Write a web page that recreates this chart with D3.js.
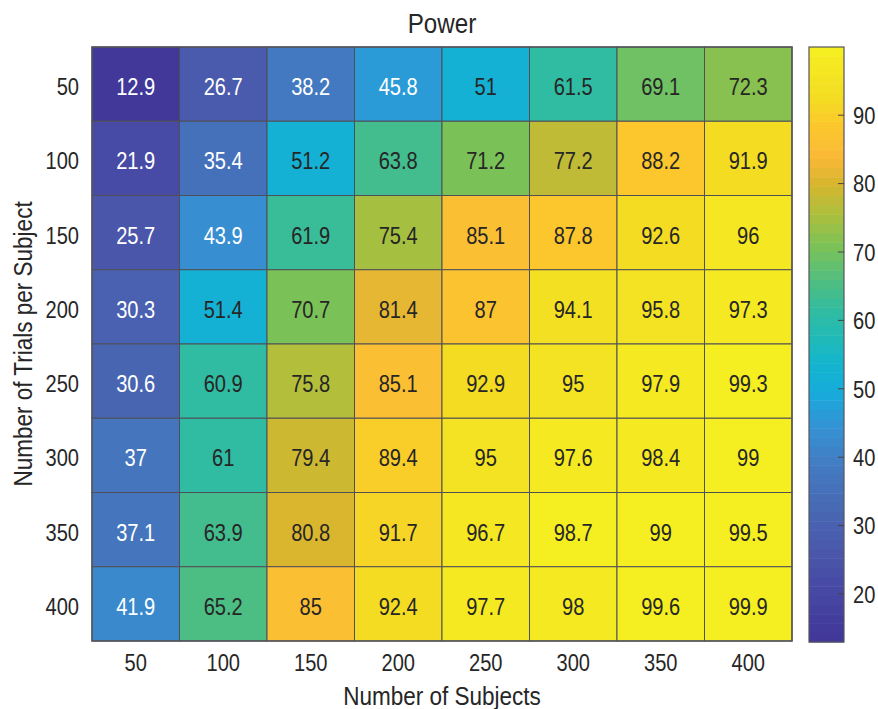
<!DOCTYPE html>
<html>
<head>
<meta charset="utf-8">
<script src="https://cdn.jsdelivr.net/npm/d3@7"></script>
<style>
  html, body { margin: 0; padding: 0; background: #fff; }
  svg text { font-family: "Liberation Sans Narrow", "Liberation Sans", Arial, sans-serif; fill: #262626; }
</style>
</head>
<body>
<svg id="chart" width="878" height="709"></svg>
<script>
// Number of subjects (columns) and trials per subject (rows)
const subjects = [50, 100, 150, 200, 250, 300, 350, 400];
const trials = [50, 100, 150, 200, 250, 300, 350, 400];

// Power (%) per row of trials, one value per subject count
const power50  = [12.9, 26.7, 38.2, 45.8, 51,   61.5, 69.1, 72.3];
const power100 = [21.9, 35.4, 51.2, 63.8, 71.2, 77.2, 88.2, 91.9];
const power150 = [25.7, 43.9, 61.9, 75.4, 85.1, 87.8, 92.6, 96];
const power200 = [30.3, 51.4, 70.7, 81.4, 87,   94.1, 95.8, 97.3];
const power250 = [30.6, 60.9, 75.8, 85.1, 92.9, 95,   97.9, 99.3];
const power300 = [37,   61,   79.4, 89.4, 95,   97.6, 98.4, 99];
const power350 = [37.1, 63.9, 80.8, 91.7, 96.7, 98.7, 99,   99.5];
const power400 = [41.9, 65.2, 85,   92.4, 97.7, 98,   99.6, 99.9];
const powerRows = [power50, power100, power150, power200, power250, power300, power350, power400];

const colorbarTicks = [20, 30, 40, 50, 60, 70, 80, 90];

const cells = [];
trials.forEach((t, i) => subjects.forEach((s, j) => cells.push({ trials: t, subjects: s, value: powerRows[i][j] })));

const vmin = d3.min(cells, d => d.value);
const vmax = d3.max(cells, d => d.value);

// Parula-like colour ramp, sampled into 64 discrete levels
const rampStops = [0, 0.08, 0.15, 0.22, 0.30, 0.36, 0.42, 0.47, 0.55, 0.61, 0.67, 0.72, 0.77, 0.82, 0.87, 0.92, 1];
const rampColors = ["#41389a", "#4748a3", "#4a58ab", "#4868b4", "#427dc3", "#3492d4", "#16acdc", "#14b6cd",
                    "#2dbca5", "#50be80", "#7dc255", "#aac03e", "#d4b62e", "#fab937", "#fdc62d", "#f4dc23", "#f5ee20"];
const ramp = d3.scaleLinear().domain(rampStops).range(rampColors).interpolate(d3.interpolateRgb);
const levels = d3.range(64).map(k => ramp(k / 63));
const color = d3.scaleQuantize().domain([vmin, vmax]).range(levels);

// Condensed lettering: horizontal squeeze of the sans face
const NARROW = 0.82;

const svg = d3.select("#chart");
const plot = { left: 92, top: 47, right: 792, bottom: 641 };

const x = d3.scaleBand().domain(subjects).range([plot.left, plot.right]);
const y = d3.scaleBand().domain(trials).range([plot.top, plot.bottom]);

// Heatmap cells
svg.append("g").selectAll("rect").data(cells).join("rect")
  .attr("x", d => x(d.subjects))
  .attr("y", d => y(d.trials))
  .attr("width", x.bandwidth())
  .attr("height", y.bandwidth())
  .attr("fill", d => color(d.value))
  .attr("stroke", "#4f4f57")
  .attr("stroke-width", 1);

// Cell value labels, white on dark cells
function isDark(c) {
  const r = d3.rgb(c);
  return 0.299 * r.r + 0.587 * r.g + 0.114 * r.b < 130;
}
svg.append("g").selectAll("text").data(cells).join("text")
  .attr("transform", d => `translate(${x(d.subjects) + x.bandwidth() / 2},${y(d.trials) + y.bandwidth() / 2 + 11}) scale(${NARROW},1)`)
  .attr("text-anchor", "middle")
  .attr("font-size", 24.5)
  .style("fill", d => isDark(color(d.value)) ? "#ffffff" : "#262626")
  .text(d => String(d.value));

// Outer frame
svg.append("rect")
  .attr("x", plot.left).attr("y", plot.top)
  .attr("width", plot.right - plot.left).attr("height", plot.bottom - plot.top)
  .attr("fill", "none").attr("stroke", "#55555c").attr("stroke-width", 1.5);

// Axes (labels only, no tick lines)
const xAxis = svg.append("g").attr("transform", `translate(0,${plot.bottom})`)
  .call(d3.axisBottom(x).tickSize(0));
xAxis.selectAll("text").attr("dy", null).attr("y", 30);

const yAxis = svg.append("g").attr("transform", `translate(${plot.left},0)`)
  .call(d3.axisLeft(y).tickSize(0).tickPadding(13 / NARROW));
yAxis.selectAll("text").attr("dy", "0.45em");

[xAxis, yAxis].forEach(a => {
  a.select(".domain").remove();
  a.selectAll("text")
    .attr("font-size", 24.5).attr("font-family", null)
    .attr("transform", `scale(${NARROW},1)`)
    .style("fill", "#262626");
});
// keep x tick labels centred on their bands after the squeeze
xAxis.selectAll("text").attr("x", 0);

// Title and axis titles
svg.append("text")
  .attr("transform", `translate(${(plot.left + plot.right) / 2},33) scale(0.88,1)`)
  .attr("text-anchor", "middle").attr("font-size", 27.5).text("Power");
svg.append("text")
  .attr("transform", `translate(${(plot.left + plot.right) / 2},705) scale(0.85,1)`)
  .attr("text-anchor", "middle").attr("font-size", 26.5).text("Number of Subjects");
svg.append("text")
  .attr("transform", `translate(32,${(plot.top + plot.bottom) / 2}) rotate(-90) scale(0.85,1)`)
  .attr("text-anchor", "middle").attr("font-size", 26.5).text("Number of Trials per Subject");

// Colorbar
const cb = { left: 809, right: 844, top: 47, bottom: 642 };
const cbScale = d3.scaleLinear().domain([vmin, vmax]).range([cb.bottom, cb.top]);
const bandStep = (vmax - vmin) / levels.length;
svg.append("g").selectAll("rect").data(levels).join("rect")
  .attr("x", cb.left)
  .attr("width", cb.right - cb.left)
  .attr("y", (c, k) => cbScale(vmin + (k + 1) * bandStep))
  .attr("height", (c, k) => cbScale(vmin + k * bandStep) - cbScale(vmin + (k + 1) * bandStep) + 0.5)
  .attr("fill", c => c);
svg.append("rect")
  .attr("x", cb.left).attr("y", cb.top)
  .attr("width", cb.right - cb.left).attr("height", cb.bottom - cb.top)
  .attr("fill", "none").attr("stroke", "#55555c").attr("stroke-width", 1.2);

const cbAxis = svg.append("g").attr("transform", `translate(${cb.right},0)`)
  .call(d3.axisRight(cbScale).tickValues(colorbarTicks).tickSize(-6).tickPadding(9 / NARROW));
cbAxis.select(".domain").remove();
cbAxis.selectAll("line").attr("stroke", "#444");
cbAxis.selectAll("text")
  .attr("font-size", 24.5).attr("font-family", null).attr("dy", "0.36em")
  .attr("transform", `scale(${NARROW},1)`)
  .style("fill", "#262626");
</script>
</body>
</html>
